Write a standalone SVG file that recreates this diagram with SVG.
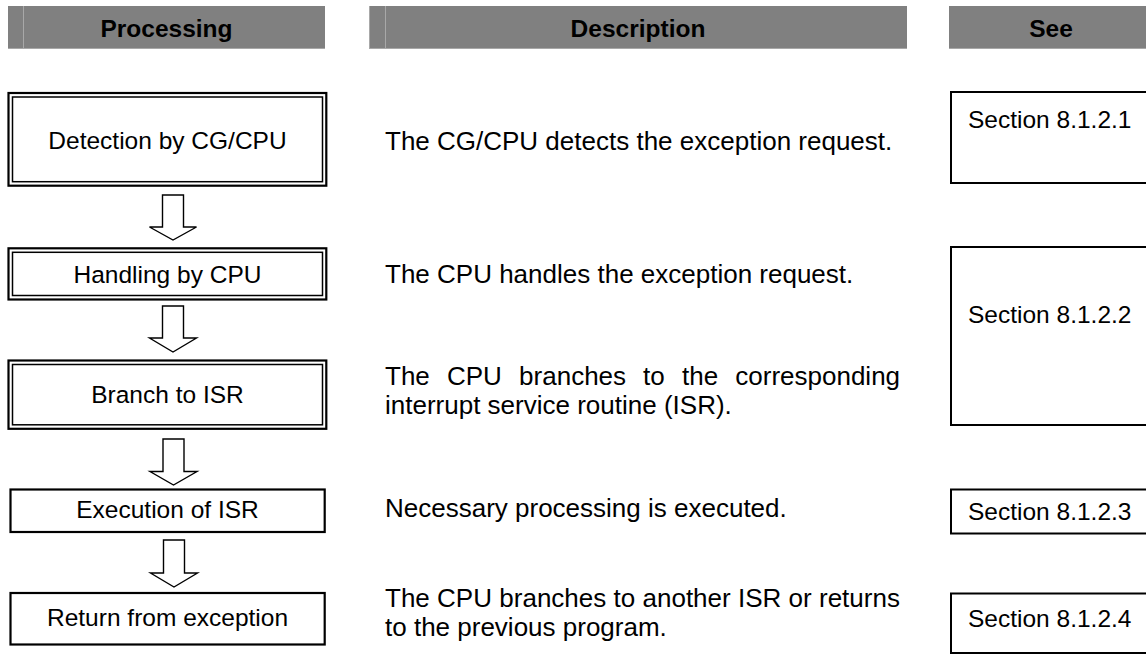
<svg xmlns="http://www.w3.org/2000/svg" width="1146" height="654" viewBox="0 0 1146 654">
<style>
.hdr{fill:#808080}
.hdrl{stroke:#a8a8a8;stroke-width:1;fill:none}
.ht{font-family:"Liberation Sans",Arial,sans-serif;font-weight:bold;font-size:24.5px;fill:#000;text-anchor:middle}
.bt{font-family:"Liberation Sans",Arial,sans-serif;font-size:24.5px;fill:#000;text-anchor:middle}
.dt{font-family:"Liberation Sans",Arial,sans-serif;font-size:26px;fill:#000}
.st{font-family:"Liberation Sans",Arial,sans-serif;font-size:24.5px;fill:#000}
.o{fill:#fff;stroke:#000;stroke-width:2.2}
.i{fill:none;stroke:#000;stroke-width:1.5}
.s{fill:#fff;stroke:#000;stroke-width:2.2}
.sec{fill:#fff;stroke:#000;stroke-width:2}
.arr{fill:#fff;stroke:#000;stroke-width:1.4;stroke-linejoin:miter}
</style>

<g id="headers">
  <rect class="hdr" x="8" y="6" width="317" height="42"/>
  <line class="hdrl" x1="23.5" y1="6" x2="23.5" y2="48"/>
  <line class="hdrl" x1="8" y1="48.5" x2="325" y2="48.5"/>
  <text class="ht" x="166.5" y="36.5">Processing</text>

  <rect class="hdr" x="369" y="6" width="538" height="42"/>
  <line class="hdrl" x1="369.5" y1="6" x2="369.5" y2="48"/>
  <line class="hdrl" x1="385.5" y1="6" x2="385.5" y2="48"/>
  <line class="hdrl" x1="369" y1="48.5" x2="907" y2="48.5"/>
  <text class="ht" x="638" y="36.5">Description</text>

  <rect class="hdr" x="949" y="6" width="204" height="42"/>
  <line class="hdrl" x1="949" y1="48.5" x2="1146" y2="48.5"/>
  <text class="ht" x="1051" y="36.5">See</text>
</g>

<g id="connectors">
  <path class="arr" d="M162.5,195 H183.5 V227 H196.5 L173,240 L149.5,227 H162.5 Z"/>
  <path class="arr" d="M162.5,306 H183.5 V338 H196.5 L173,352 L149.5,338 H162.5 Z"/>
  <path class="arr" d="M163,439 H184 V471.5 H197 L173.5,485 L150,471.5 H163 Z"/>
  <path class="arr" d="M163.5,540 H184.5 V573 H197.5 L174,587 L150.5,573 H163.5 Z"/>
</g>

<g id="node-detection">
  <rect class="o" x="8.5" y="93" width="317.8" height="92.7"/>
  <rect class="i" x="12.5" y="97" width="310" height="84.7"/>
  <text class="bt" x="167.5" y="148.5">Detection by CG/CPU</text>
</g>
<g id="node-handling">
  <rect class="o" x="8.5" y="248.3" width="317.8" height="51.2"/>
  <rect class="i" x="12.5" y="252.3" width="310" height="43.2"/>
  <text class="bt" x="167.5" y="282.5">Handling by CPU</text>
</g>
<g id="node-branch">
  <rect class="o" x="8.5" y="360.5" width="317.8" height="68.3"/>
  <rect class="i" x="12.5" y="364.5" width="310" height="60.3"/>
  <text class="bt" x="167.5" y="402.5">Branch to ISR</text>
</g>
<g id="node-execution">
  <rect class="s" x="10.5" y="489.5" width="314.2" height="42.5"/>
  <text class="bt" x="167.5" y="517.5">Execution of ISR</text>
</g>
<g id="node-return">
  <rect class="s" x="10.5" y="593" width="314.2" height="51.5"/>
  <text class="bt" x="167.5" y="626">Return from exception</text>
</g>

<g id="descriptions">
  <text class="dt" x="385" y="150">The CG/CPU detects the exception request.</text>
  <text class="dt" x="385" y="283">The CPU handles the exception request.</text>
  <text class="dt" y="385"><tspan x="385">The</tspan><tspan x="447">CPU</tspan><tspan x="519.1">branches</tspan><tspan x="643.1">to</tspan><tspan x="682">the</tspan><tspan x="735.3">corresponding</tspan></text>
  <text class="dt" x="385" y="414">interrupt service routine (ISR).</text>
  <text class="dt" x="385" y="517">Necessary processing is executed.</text>
  <text class="dt" y="607"><tspan x="385">The</tspan><tspan x="437.1">CPU</tspan><tspan x="499.3">branches</tspan><tspan x="613.5">to</tspan><tspan x="642.5">another</tspan><tspan x="738">ISR</tspan><tspan x="788.6">or</tspan><tspan x="819">returns</tspan></text>
  <text class="dt" x="385" y="636">to the previous program.</text>
</g>

<g id="see-1">
  <rect class="sec" x="951" y="92" width="210" height="91"/>
  <text class="st" x="968" y="127.5">Section 8.1.2.1</text>
</g>
<g id="see-2">
  <rect class="sec" x="951" y="247" width="210" height="178"/>
  <text class="st" x="968" y="323">Section 8.1.2.2</text>
</g>
<g id="see-3">
  <rect class="sec" x="951" y="489.5" width="210" height="44"/>
  <text class="st" x="968" y="519.5">Section 8.1.2.3</text>
</g>
<g id="see-4">
  <rect class="sec" x="951" y="593.5" width="210" height="59.5"/>
  <text class="st" x="968" y="626.5">Section 8.1.2.4</text>
</g>
</svg>
